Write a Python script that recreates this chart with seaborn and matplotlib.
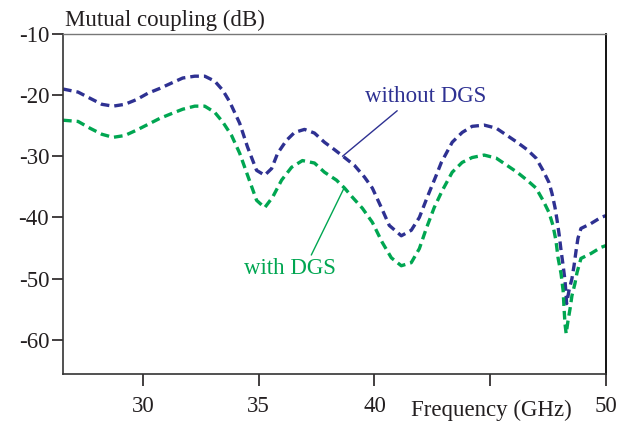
import matplotlib
matplotlib.use('Agg')
import matplotlib.pyplot as plt
import seaborn as sns

# curve without DGS (frequency in GHz, coupling in dB)
FREQ_NO_DGS = [26.55, 27.20, 27.71, 28.23, 28.71, 29.22, 29.74, 30.21, 30.73, 31.25,
               31.72, 32.24, 32.67, 33.10, 33.45, 33.75, 34.18, 34.52, 34.91, 35.26,
               35.56, 35.82, 36.20, 36.55, 36.98, 37.41, 37.84, 38.27, 38.71, 39.14,
               39.57, 39.91, 40.30, 40.64, 41.16, 41.59, 41.94, 42.28, 42.67, 42.89,
               43.36, 43.79, 44.22, 44.74, 45.26, 45.73, 46.16, 46.59, 46.98, 47.28,
               47.54, 47.67, 47.80, 47.89, 47.97, 48.06, 48.15, 48.23, 48.27, 48.30,
               48.40, 48.53, 48.62, 48.71, 48.79, 48.92, 49.35, 49.78, 50.00]
DB_NO_DGS = [-19.0, -19.5, -20.5, -21.5, -21.8, -21.5, -20.7, -19.7, -18.9, -18.0,
             -17.2, -16.9, -16.9, -17.7, -19.2, -21.1, -24.6, -28.5, -32.3, -33.1,
             -32.0, -29.5, -27.4, -26.1, -25.6, -26.2, -27.7, -28.9, -30.2, -31.5,
             -33.4, -35.2, -38.4, -41.3, -43.0, -42.1, -40.0, -36.7, -33.1, -31.0,
             -27.7, -26.1, -25.1, -24.9, -25.4, -26.6, -27.7, -28.9, -30.3, -32.3,
             -34.3, -36.1, -38.4, -40.5, -42.6, -45.4, -47.9, -50.3, -52.3, -54.1,
             -52.0, -50.0, -47.9, -45.4, -43.4, -41.8, -41.0, -40.0, -39.7]

# curve with DGS
FREQ_DGS = [26.55, 27.20, 27.71, 28.23, 28.71, 29.22, 29.74, 30.21, 30.73, 31.25,
            31.72, 32.24, 32.67, 33.10, 33.45, 33.83, 34.18, 34.52, 34.91, 35.26,
            35.60, 35.99, 36.42, 36.89, 37.41, 37.84, 38.36, 38.71, 39.05, 39.48,
            39.91, 40.34, 40.73, 41.16, 41.59, 41.94, 42.24, 42.58, 42.93, 43.36,
            43.79, 44.22, 44.74, 45.26, 45.73, 46.16, 46.59, 46.98, 47.28, 47.54,
            47.71, 47.84, 47.93, 48.06, 48.15, 48.19, 48.23, 48.28, 48.36, 48.45,
            48.53, 48.66, 48.75, 48.92, 49.35, 49.78, 50.00]
DB_DGS = [-24.1, -24.3, -25.4, -26.4, -26.9, -26.6, -25.7, -24.8, -23.8, -23.0,
          -22.3, -21.8, -21.8, -22.8, -24.4, -26.6, -29.5, -33.1, -37.2, -38.4,
          -36.7, -33.9, -31.8, -30.7, -31.1, -32.6, -33.9, -35.2, -36.7, -38.5,
          -40.8, -44.1, -46.6, -47.9, -47.4, -45.1, -41.8, -38.4, -35.6, -32.6,
          -31.0, -30.2, -29.8, -30.3, -31.5, -32.6, -33.9, -35.2, -37.2, -39.2,
          -41.3, -43.8, -46.6, -49.2, -52.0, -54.9, -57.4, -59.0, -56.9, -54.9,
          -52.8, -50.8, -49.0, -46.7, -45.9, -44.9, -44.6]

X_TICKS = [30, 35, 40, 45, 50]
X_TICK_LABELS = ['30', '35', '40', '', '50']
Y_TICKS = [-10, -20, -30, -40, -50, -60]

BLUE = '#2E3192'
GREEN = '#00A651'
TEXT = '#231F20'

sns.set_style('white')
plt.rcParams['font.family'] = ['Liberation Serif', 'DejaVu Serif']
plt.rcParams['font.size'] = 16.5
plt.rcParams['axes.unicode_minus'] = False

fig = plt.figure(figsize=(6.34, 4.26), dpi=100)
ax = fig.add_axes([0.0994, 0.1221, 0.8564, 0.7981])

for freq, db, col in [(FREQ_NO_DGS, DB_NO_DGS, BLUE), (FREQ_DGS, DB_DGS, GREEN)]:
    sns.lineplot(x=freq, y=db, ax=ax, color=col, linewidth=2.4,
                 estimator=None, sort=False)
for line in ax.lines:
    line.set_dashes((2.6, 1.5))

ax.set_xlim(26.55, 50)
ax.set_ylim(-65.6, -10)
ax.set_xticks(X_TICKS)
ax.set_xticklabels(X_TICK_LABELS)
ax.set_yticks(Y_TICKS)
ax.tick_params(axis='both', direction='out', colors=TEXT, labelcolor=TEXT,
               width=1.2, labelsize=16.5)
ax.tick_params(axis='y', length=8, pad=2, left=True)
ax.tick_params(axis='x', length=8.5, pad=7, bottom=True)

for side in ('left', 'bottom'):
    ax.spines[side].set_color('#333333')
    ax.spines[side].set_linewidth(1.2)
ax.spines['top'].set_color('#777777')
ax.spines['top'].set_linewidth(1.0)
ax.spines['right'].set_color('black')
ax.spines['right'].set_linewidth(1.3)

# annotations
ax.annotate('without DGS', xy=(38.62, -30.0), xytext=(42.2, -20.3),
            color=BLUE, fontsize=16.5, ha='center', va='center',
            arrowprops=dict(arrowstyle='-', color=BLUE, lw=1.0,
                            shrinkA=0, shrinkB=0,
                            relpos=(0.3, 0.0)))
ax.annotate('with DGS', xy=(38.7, -35.1), xytext=(36.33, -48.4),
            color=GREEN, fontsize=16.5, ha='center', va='center',
            arrowprops=dict(arrowstyle='-', color=GREEN, lw=1.0,
                            shrinkA=0, shrinkB=0,
                            relpos=(0.72, 1.0)))

ax.text(0.004, 1.009, 'Mutual coupling (dB)', transform=ax.transAxes,
        ha='left', va='bottom', color=TEXT, fontsize=16.5)
ax.text(45.05, -71.5, 'Frequency (GHz)', ha='center', va='center',
        color=TEXT, fontsize=16.5)

fig.savefig('out.png', dpi=100)
